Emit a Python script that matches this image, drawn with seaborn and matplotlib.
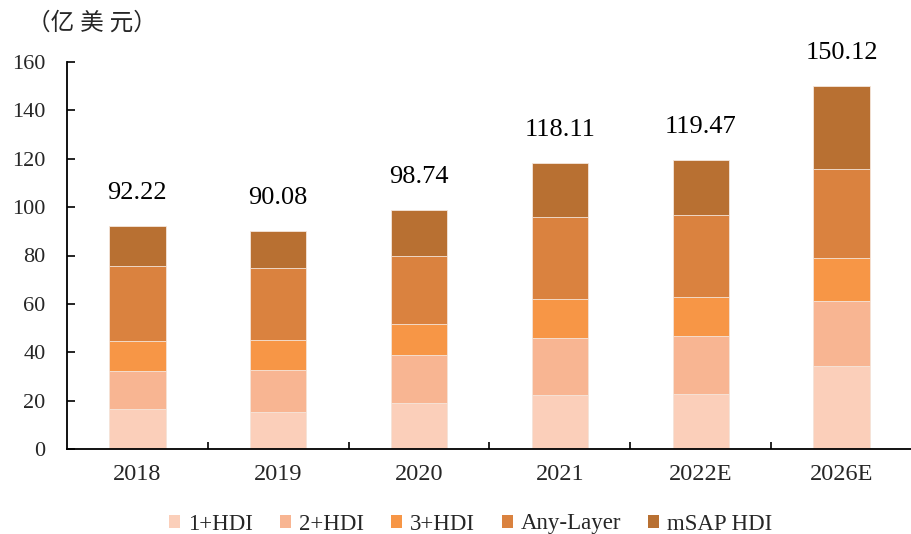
import matplotlib
matplotlib.use("Agg")
import matplotlib.pyplot as plt
from matplotlib.patches import Patch
import numpy as np
import pandas as pd
import seaborn as sns

# HDI market size by product type (100 million USD)
years = ["2018", "2019", "2020", "2021", "2022E", "2026E"]
series_names = ["1+HDI", "2+HDI", "3+HDI", "Any-Layer", "mSAP HDI"]
hdi_1 = [16.5, 15.3, 19.2, 22.5, 22.9, 34.4]
hdi_2 = [15.7, 17.4, 19.8, 23.5, 23.8, 26.8]
hdi_3 = [12.4, 12.4, 12.7, 16.2, 16.1, 17.8]
any_layer = [31.0, 29.6, 28.1, 33.6, 33.9, 36.7]
msap = [16.62, 15.38, 18.94, 22.31, 22.77, 34.42]
totals = [92.22, 90.08, 98.74, 118.11, 119.47, 150.12]
colors = ["#FBCFBA", "#F8B592", "#F79646", "#DA823F", "#B87032"]

sns.set_theme(style="white")
plt.rcParams["font.family"] = ["Liberation Serif", "Noto Sans CJK SC"]

df = pd.DataFrame({"year": years, "1+HDI": hdi_1, "2+HDI": hdi_2,
                   "3+HDI": hdi_3, "Any-Layer": any_layer, "mSAP HDI": msap})
cum = df[series_names].cumsum(axis=1)
# the top layer ends exactly at the stated totals
cum["mSAP HDI"] = totals

fig = plt.figure(figsize=(9.12, 5.34), dpi=100)
ax = fig.add_axes([67 / 912, 85 / 534, 845 / 912, 387 / 534])

# stacked bars: draw cumulative heights from the top layer down
for name, col in reversed(list(zip(series_names, colors))):
    sns.barplot(x=df["year"], y=cum[name], color=col, width=0.4,
                saturation=1, edgecolor="#F5E6DC", linewidth=0.6, ax=ax)

for i, t in enumerate(totals):
    ax.annotate(f"{t:.2f}", xy=(i, t), xytext=(0, 19.5), textcoords="offset points",
                ha="center", va="baseline", fontsize=19, color="black")

ax.set_xlim(-0.5, 5.43)
ax.set_ylim(0, 160)
ax.set_yticks(np.arange(0, 161, 20))
ax.set_xlabel("")
ax.set_ylabel("")

# category labels at bar centres, small tick marks between categories
ax.set_xticks(np.arange(len(years)))
ax.set_xticklabels(years)
ax.set_xticks(np.arange(len(years)) + 0.5, minor=True)
ax.tick_params(axis="x", which="major", length=0, pad=11, labelsize=17.5)
ax.tick_params(axis="x", which="minor", direction="in", length=5, width=1.2,
               color="black", bottom=True)
ax.tick_params(axis="y", direction="in", length=6, width=1.2, color="black",
               left=True, pad=15.5, labelsize=16)

for s in ["top", "right"]:
    ax.spines[s].set_visible(False)
for s in ["left", "bottom"]:
    ax.spines[s].set_color("black")
    ax.spines[s].set_linewidth(1.3)

# unit label, loosely spaced
fig.text(91.5 / 912, 1 - 23 / 534, "（亿 美 元）", ha="center", va="center",
         fontsize=17, family=["Liberation Serif", "Noto Sans CJK SC"])

handles = [Patch(facecolor=c, edgecolor="none") for c in colors]
fig.legend(handles, series_names, loc="center", bbox_to_anchor=(0.516, 1 - 524 / 534),
           ncol=5, frameon=False, fontsize=16.5, handlelength=0.48, handleheight=0.48,
           handletextpad=0.35, columnspacing=1.18)

fig.savefig("out.png", dpi=100)
